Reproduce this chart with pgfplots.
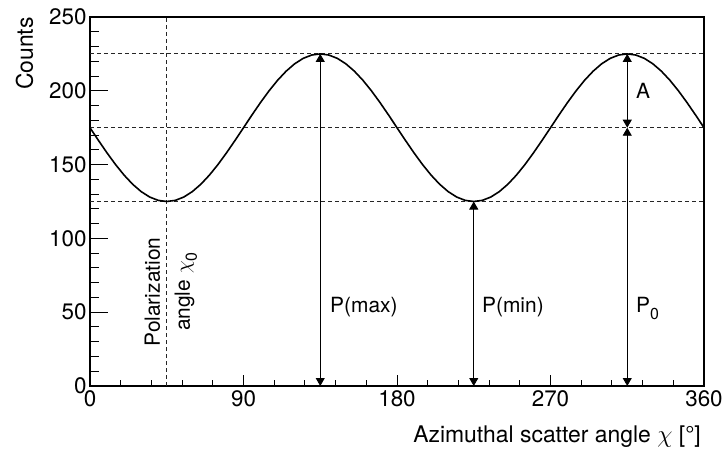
\documentclass[border=0pt]{standalone}
\usepackage{pgfplots}
\pgfplotsset{compat=1.18}
\usepackage{fontspec}
\setmainfont{TeX Gyre Heros}
\usetikzlibrary{arrows.meta}

\pgfplotstableread{
chi counts
0 175
5 166.32
10 157.90
15 150
20 142.86
25 136.70
30 131.70
35 128.02
40 125.76
45 125
50 125.76
55 128.02
60 131.70
65 136.70
70 142.86
75 150
80 157.90
85 166.32
90 175
95 183.68
100 192.10
105 200
110 207.14
115 213.30
120 218.30
125 221.98
130 224.24
135 225
140 224.24
145 221.98
150 218.30
155 213.30
160 207.14
165 200
170 192.10
175 183.68
180 175
185 166.32
190 157.90
195 150
200 142.86
205 136.70
210 131.70
215 128.02
220 125.76
225 125
230 125.76
235 128.02
240 131.70
245 136.70
250 142.86
255 150
260 157.90
265 166.32
270 175
275 183.68
280 192.10
285 200
290 207.14
295 213.30
300 218.30
305 221.98
310 224.24
315 225
320 224.24
325 221.98
330 218.30
335 213.30
340 207.14
345 200
350 192.10
355 183.68
360 175
}\modulation

\newcommand{\sub}[1]{\raisebox{-7bp}{\fontsize{16}{16}\selectfont #1}}

\tikzset{
  note/.style={font=\fontsize{21}{25}\selectfont, inner sep=0pt},
  dashline/.style={black!85, line width=0.8bp, dash pattern=on 4bp off 3bp},
  dimarrow/.style={black, line width=0.9bp,
    {Triangle[width=9bp,length=8bp]}-{Triangle[width=9bp,length=8bp]}},
}

\begin{document}
\begin{tikzpicture}
\path[use as bounding box] (-90bp,-66bp) rectangle (632bp,386bp);

\pgfplotsset{
  base/.style={
    scale only axis,
    width=614bp, height=369bp,
    xmin=0, xmax=360, ymin=0, ymax=250,
    clip=false,
    axis line style={line width=1.2bp, black},
    tick style={line width=1bp, black},
    tick align=inside,
    /pgf/number format/assume math mode=true,
    ticklabel style={font=\fontsize{22.5}{26}\selectfont},
  },
}

% Main axis: curve, guides, y ticks and all tick labels
\begin{axis}[
  base,
  xtick={0,90,...,360},
  xtick pos=left,
  xtick style={draw=none},
  xticklabel style={yshift=-1.5bp},
  ytick={0,50,...,250},
  ytick pos=left,
  minor y tick num=4,
  major tick length=18bp,
  minor tick length=9bp,
  xlabel={Azimuthal scatter angle $\chi$ [°]},
  ylabel={Counts},
  xlabel style={at={(rel axis cs:1,0)}, anchor=base east,
    font=\fontsize{23}{27}\selectfont, inner sep=0pt, yshift=-56bp, xshift=-3bp},
  ylabel style={at={(rel axis cs:0,1)}, anchor=base east,
    font=\fontsize{23}{27}\selectfont, inner sep=0pt, yshift=57bp},
]
% reference levels: maximum, mean, minimum
\addplot[dashline] coordinates {(0,225) (360,225)};
\addplot[dashline] coordinates {(0,175) (360,175)};
\addplot[dashline] coordinates {(0,125) (360,125)};
% polarization angle
\addplot[dashline] coordinates {(45,0) (45,250)};

% modulation curve
\addplot[black, line width=1.6bp] table[x=chi, y=counts] {\modulation};

% dimension arrows
\addplot[dimarrow] coordinates {(135,0) (135,225)};
\addplot[dimarrow] coordinates {(225,0) (225,125)};
\addplot[dimarrow] coordinates {(315,0) (315,175)};
\addplot[dimarrow] coordinates {(315,175) (315,225)};

\node[note, anchor=base west] at (axis cs:140.7,50.1) {P(max)};
\node[note, anchor=base west] at (axis cs:229.8,50.1) {P(min)};
\node[note, anchor=base west] at (axis cs:320.1,50.1) {P\sub{0}};
\node[note, anchor=base west] at (axis cs:320.1,195.1) {A};
\node[note, anchor=base, rotate=90] at (axis cs:41,63.7) {Polarization};
\node[note, anchor=base, rotate=90] at (axis cs:58.6,63.9) {angle $\chi$\sub{0}};
\end{axis}

% Second layer: x ticks with their own lengths
\begin{axis}[
  base,
  axis line style={draw=none},
  xtick={0,90,...,360},
  xtick pos=left,
  xticklabels={},
  minor x tick num=4,
  ytick=\empty,
  major tick length=11bp,
  minor tick length=6bp,
]
\end{axis}
\end{tikzpicture}
\end{document}
